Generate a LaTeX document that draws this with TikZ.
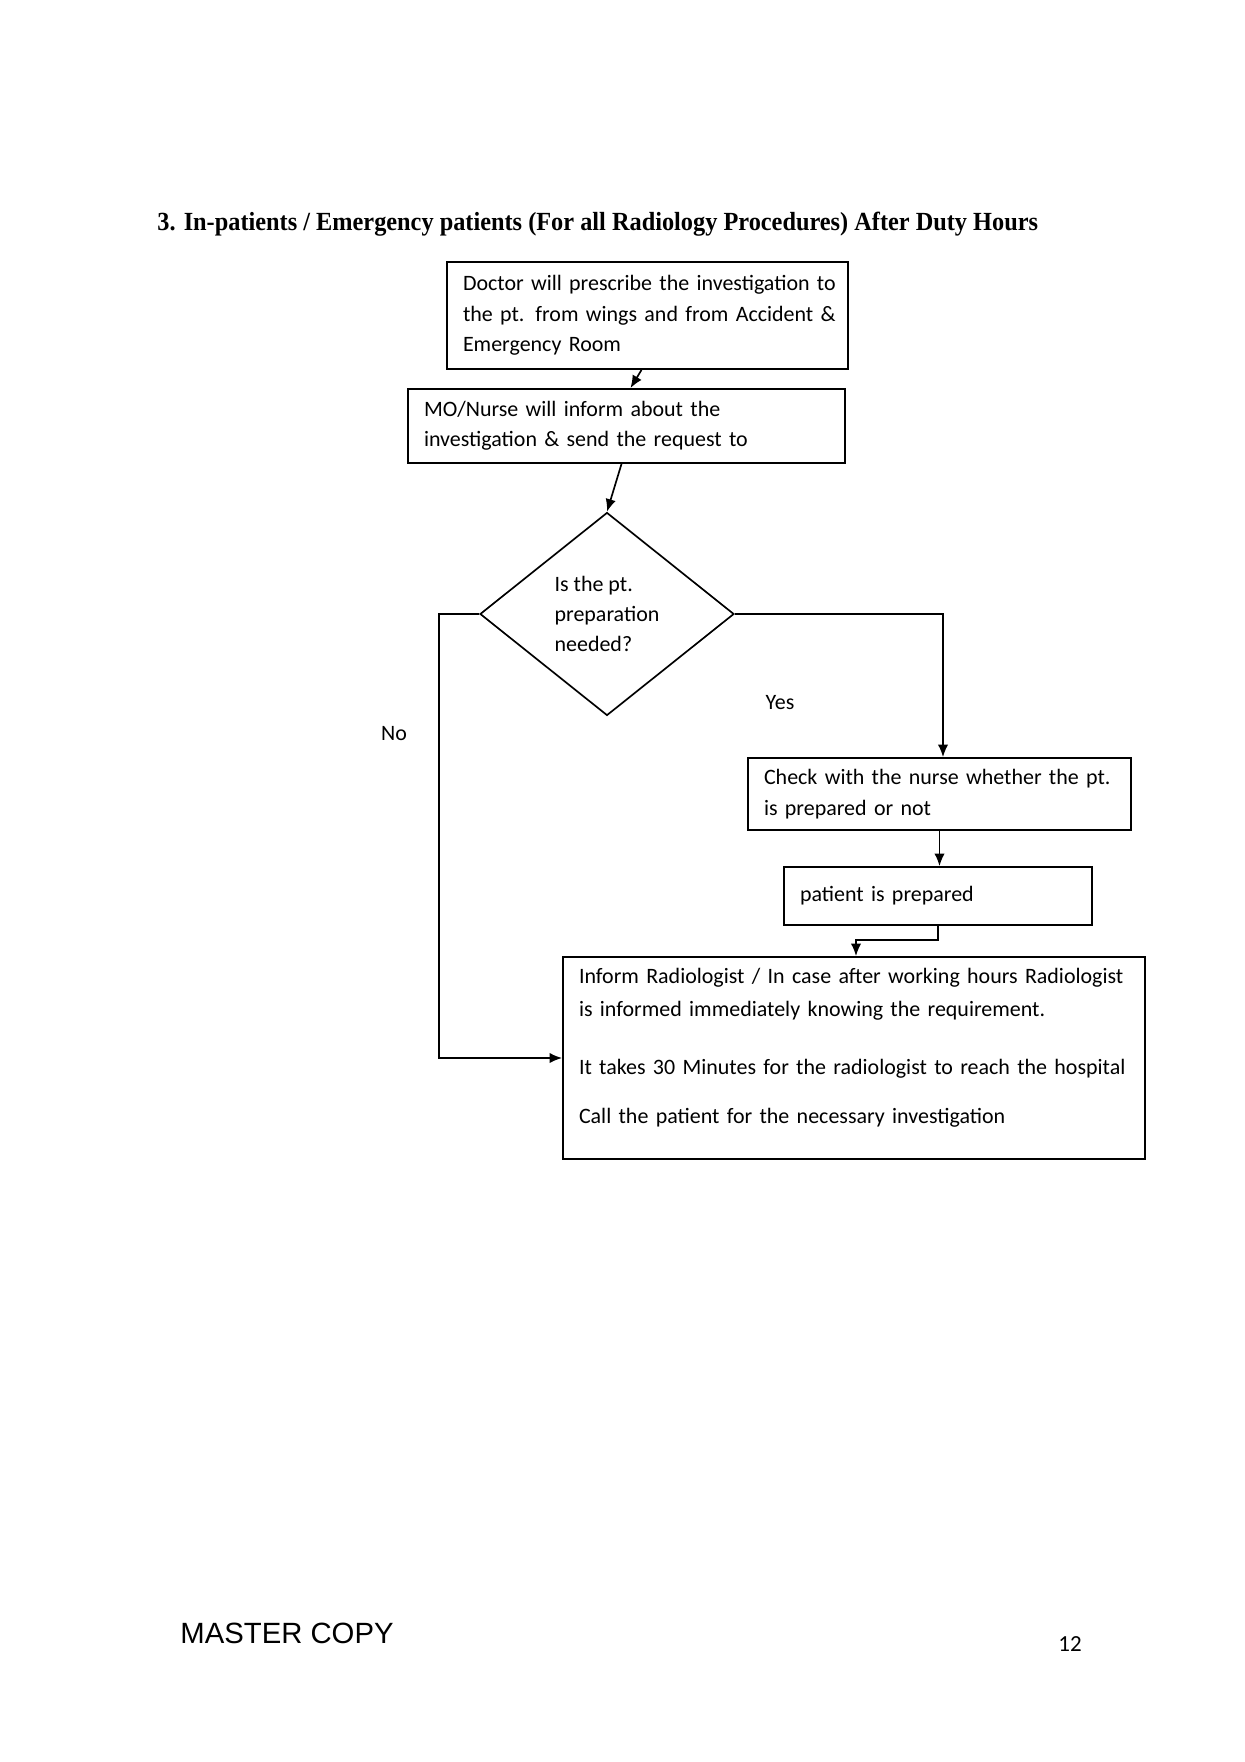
\documentclass[tikz,border=0pt]{standalone}
\usepackage{graphicx}
\usepackage{fontspec}
\setmainfont{Carlito}
\newfontfamily\titlefont{Liberation Serif}
\newfontfamily\arialfont{Liberation Sans}
\usetikzlibrary{shapes.geometric,arrows.meta,calc}
\begin{document}
\begin{tikzpicture}[x=0.478pt,y=-0.478pt,
  box/.style={draw, line width=0.9pt, rectangle, align=left, inner xsep=16*0.478pt, inner ysep=0pt, font=\fontsize{10.5}{14.5}\selectfont},
  dec/.style={draw, line width=0.8pt, diamond, align=left, inner sep=0pt, font=\fontsize{10.5}{14.5}\selectfont, minimum width=254*0.478pt, minimum height=203*0.478pt},
  arr/.style={-{Latex[length=6pt,width=5pt]}, line width=0.8pt},
  lbl/.style={font=\fontsize{10.5}{13}\selectfont, inner sep=0pt}]
\useasboundingbox (0,0) rectangle (1245,1762);

\node[anchor=west, inner sep=0pt, font=\titlefont\bfseries\fontsize{12.5}{14}\selectfont] (title) at (157,224)
  {\scalebox{0.93}[1]{3. In-patients / Emergency patients (For all Radiology Procedures) After Duty Hours}};

\node[box, text width=369*0.478pt, minimum height=107*0.478pt] (b1) at (647.5,315.5)
  {\mbox{Doctor will prescribe the investigation to}\\\mbox{the pt. from wings and from Accident \&}\\\mbox{Emergency Room}};
\node[box, text width=405*0.478pt, minimum height=74*0.478pt] (b2) at (626.5,426)
  {\mbox{MO/Nurse will inform about the}\\\mbox{investigation \& send the request to}};
\node[dec] (d) at (607,614) {Is the pt.\\preparation\\needed?};
\node[box, text width=351*0.478pt, minimum height=72*0.478pt] (b3) at (939.5,794)
  {\mbox{Check with the nurse whether the pt.}\\\mbox{is prepared or not}};
\node[box, text width=276*0.478pt, minimum height=58*0.478pt] (b4) at (938,896)
  {\mbox{patient is prepared}};
\node[box, text width=550*0.478pt, minimum height=202*0.478pt] (b5) at (854,1058)
  {\mbox{Inform Radiologist / In case after working hours Radiologist}\\[1.5pt]\mbox{is informed immediately knowing the requirement.}\\[13pt]\mbox{It takes 30 Minutes for the radiologist to reach the hospital}\\[9pt]\mbox{Call the patient for the necessary investigation}\\[-3pt] \mbox{}};

\node[lbl] (yes) at (780,703) {Yes};
\node[lbl] (no) at (394,734) {No};

\node[anchor=west, inner sep=0pt, font=\arialfont\fontsize{14}{16}\selectfont] (mc) at (180,1633) {MASTER COPY};
\node[inner sep=0pt, font=\fontsize{11}{13}\selectfont] (pg) at (1070,1644) {12};

\draw[arr] ($(b1.south)+(-6,0)$) -- ($(b2.north)+(4,0)$);
\draw[arr] ($(b2.south)+(-5,0)$) -- (d.north);
\draw[arr] (d.east) -| ($(b3.north)+(3.5,0)$);
\draw[arr] (d.west) -- ++(-40,0) |- (b5.west);
\draw[arr] (b3.south) -- (b3.south |- b4.north);
\coordinate (k) at (856,940);
\draw[arr] (b4.south) |- (k) -- (k |- b5.north);
\end{tikzpicture}
\end{document}
